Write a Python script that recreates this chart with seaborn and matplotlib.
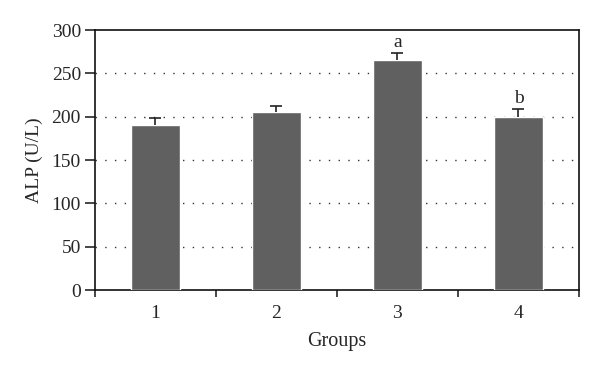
import matplotlib.pyplot as plt
import seaborn as sns
import pandas as pd
import numpy as np

groups = ['1', '2', '3', '4']
alp_mean = [190, 205, 265, 200]
alp_err = [8, 7, 9, 9]
sig_labels = ['', '', 'a', 'b']

sns.set_style('white')
plt.rcParams['font.family'] = ['Liberation Serif', 'DejaVu Serif']

df = pd.DataFrame({'group': groups, 'alp': alp_mean})

fig = plt.figure(figsize=(6, 3.73), dpi=100)
ax = fig.add_axes([0.158, 0.2225, 0.807, 0.697])

sns.barplot(data=df, x='group', y='alp', color='#606060', saturation=1,
            width=0.4, errorbar=None, ax=ax, zorder=3)
x = np.arange(len(groups))
# only the upper half of the error bar is shown
_, caps, _ = ax.errorbar(x, alp_mean, yerr=[np.zeros(len(alp_err)), alp_err],
                         fmt='none', ecolor='#222222', elinewidth=1.2,
                         capsize=4, capthick=1.2, zorder=4)
caps[0].set_visible(False)
for xi, m, e, s in zip(x, alp_mean, alp_err, sig_labels):
    if s:
        ax.text(xi, m + e + 2, s, ha='center', va='bottom', fontsize=14)

ax.set_ylim(0, 300)
ax.set_xlim(-0.5, 3.5)
ax.set_yticks(range(0, 301, 50))
for yv in range(50, 300, 50):
    ax.axhline(yv, color='#333333', linestyle=(0, (1, 6)), linewidth=1.0, zorder=1)

ax.set_xticks(x)
ax.set_xticklabels(groups)
ax.set_xticks(np.arange(-0.5, 4, 1), minor=True)
ax.tick_params(axis='x', which='major', length=0, pad=11, labelsize=14)
ax.tick_params(axis='x', which='minor', length=5, width=1.2, direction='out', bottom=True)
ax.tick_params(axis='y', length=7, width=1.2, direction='out', left=True, labelsize=14, pad=3)

for sp in ax.spines.values():
    sp.set_visible(True)
    sp.set_color('#111111')
    sp.set_linewidth(1.2)

ax.set_xlabel('Groups', fontsize=14.5, labelpad=7)
ax.set_ylabel('ALP (U/L)', fontsize=14, labelpad=6)

fig.savefig('out.png', dpi=100)
